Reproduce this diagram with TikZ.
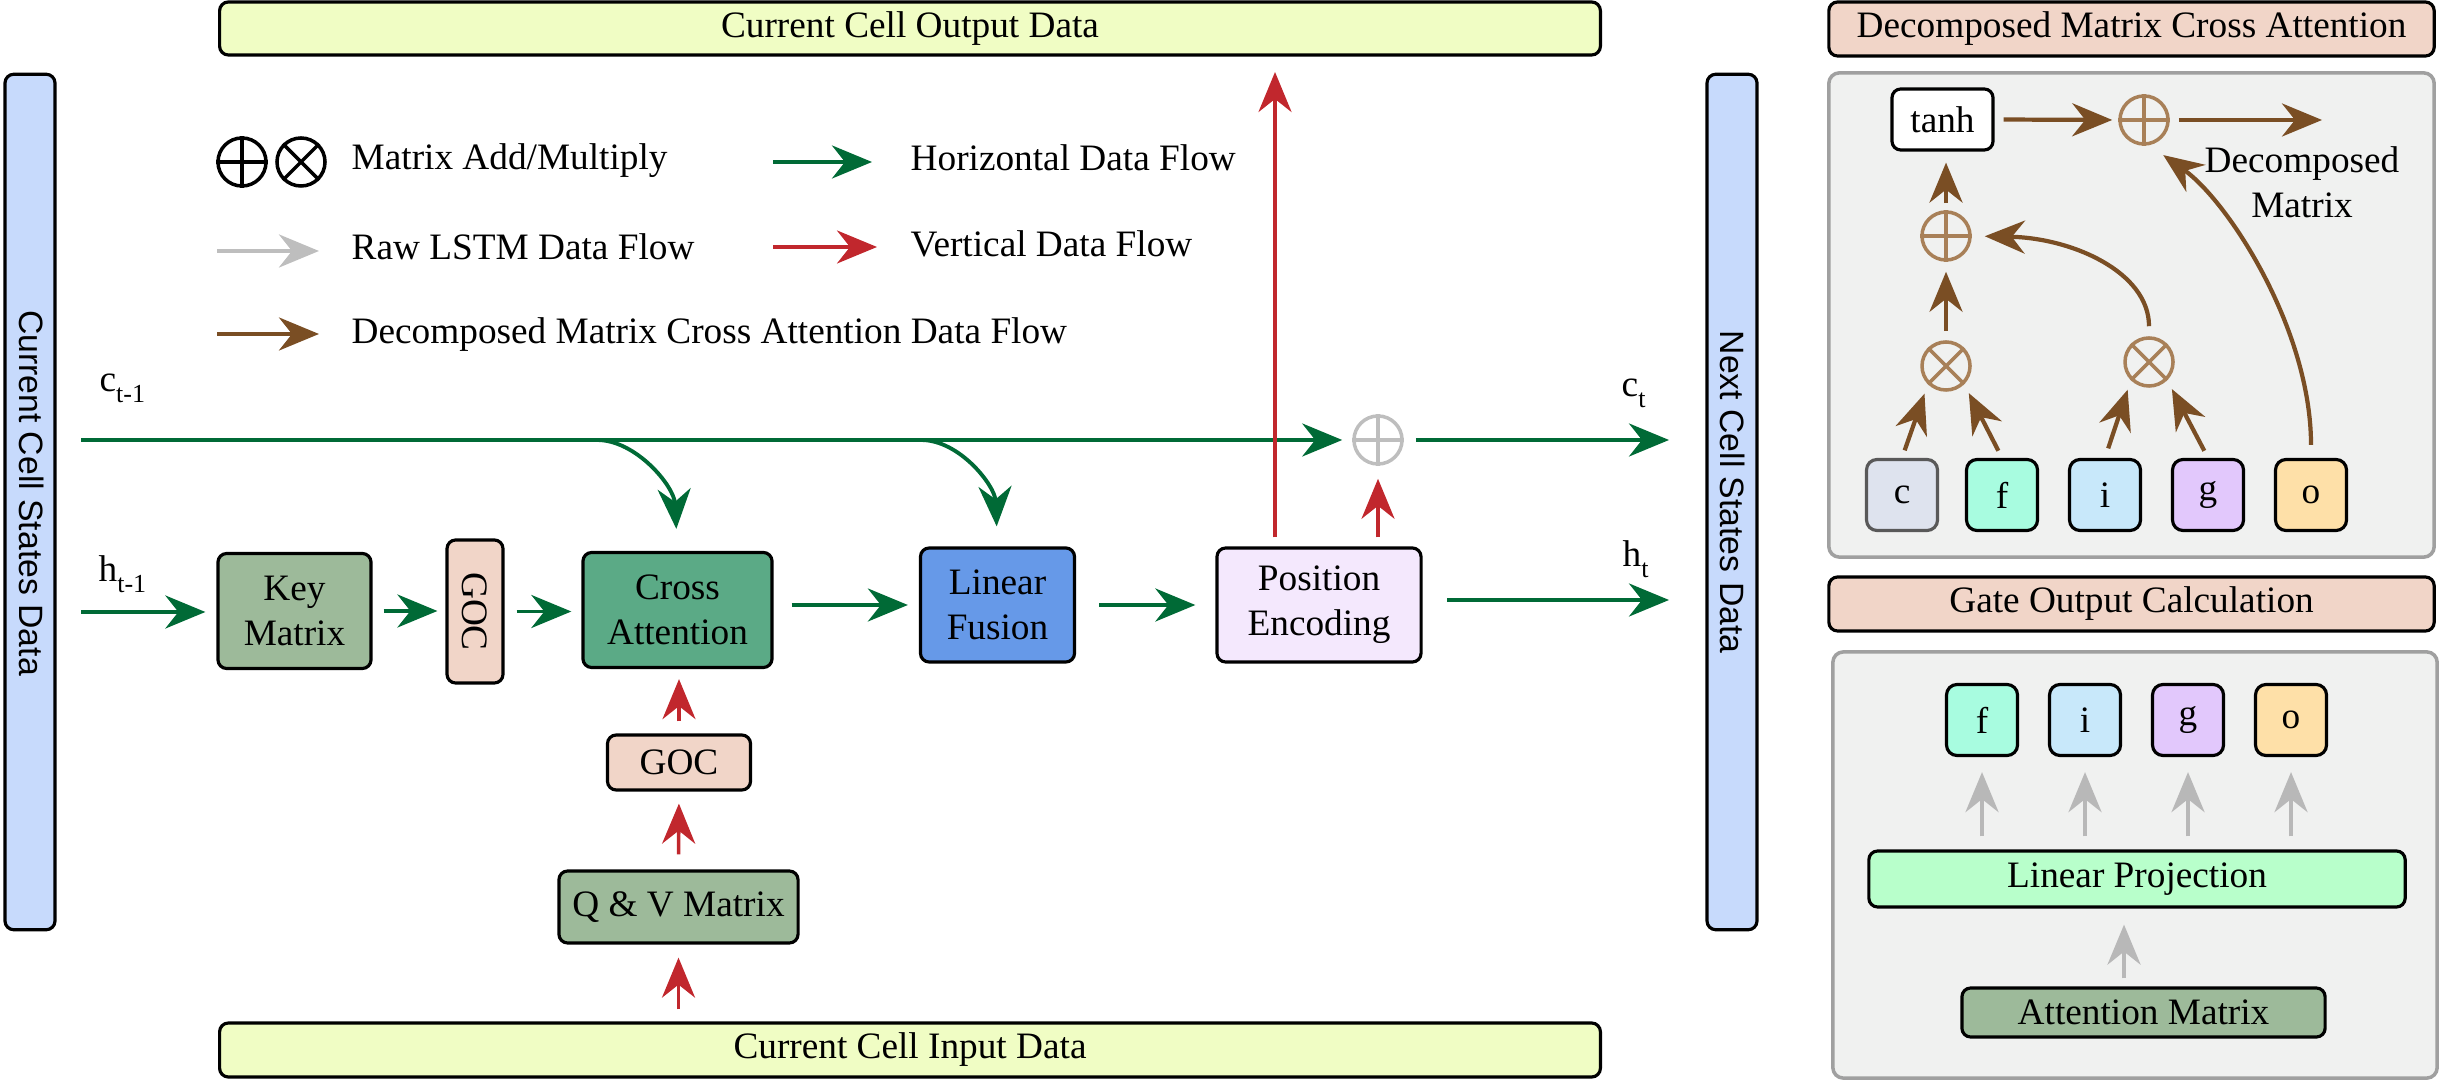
\documentclass[tikz,border=0pt]{standalone}
\usepackage{fontspec}
\setmainfont{Liberation Serif}
\setsansfont{Liberation Sans}
\usetikzlibrary{arrows.meta}
\definecolor{cyellow}{RGB}{240,253,196}
\definecolor{cblue}{RGB}{199,218,252}
\definecolor{csage}{RGB}{157,186,154}
\definecolor{ccross}{RGB}{91,170,134}
\definecolor{clin}{RGB}{102,153,232}
\definecolor{cpos}{RGB}{244,232,253}
\definecolor{cpeach}{RGB}{241,213,200}
\definecolor{cgreen}{RGB}{0,106,54}
\definecolor{cred}{RGB}{193,39,45}
\definecolor{cbrown}{RGB}{122,78,36}
\definecolor{cbrownc}{RGB}{168,128,88}
\definecolor{cgraya}{RGB}{184,184,184}
\definecolor{cgrayc}{RGB}{190,190,190}
\definecolor{cpanel}{RGB}{240,241,240}
\definecolor{cpanelb}{RGB}{160,160,160}
\definecolor{clp}{RGB}{184,255,203}
\definecolor{ccbox}{RGB}{222,227,238}
\definecolor{cfbox}{RGB}{168,252,224}
\definecolor{cibox}{RGB}{200,232,250}
\definecolor{cgbox}{RGB}{226,200,252}
\definecolor{cobox}{RGB}{254,224,168}
\newcommand{\dgf}{\fontsize{10.6}{12.8}\selectfont}
\newcommand{\dgsub}[1]{\raisebox{-3pt}{\fontsize{7.4}{8}\selectfont #1}}
\tikzset{
  box/.style={draw=black, line width=0.9pt, rounded corners=2.5pt, align=center, inner sep=0pt, font=\dgf},
  hdr/.style={box, fill=cpeach, minimum width=6.05cm, minimum height=0.54cm},
  sidebar/.style={draw=black, line width=0.9pt, rounded corners=2.5pt, fill=cblue, inner sep=0pt, minimum width=0.5cm, minimum height=8.55cm},
  sidetext/.style={rotate=-90, font=\sffamily\fontsize{9.6}{11}\selectfont, inner sep=0pt},
  lgtext/.style={anchor=base west, inner sep=0pt, font=\dgf},
  lbl/.style={anchor=base west, inner sep=0pt, font=\dgf},
  panel/.style={draw=cpanelb, fill=cpanel, line width=1pt, rounded corners=3pt},
  gate/.style={box, minimum width=0.71cm, minimum height=0.71cm, rounded corners=3pt},
  opcirc/.style={circle, minimum size=0.48cm, inner sep=0pt, line width=1pt},
  tipstyle/.style={-{Stealth[length=4mm,width=3.3mm,inset=1.3mm]}},
  garr/.style={draw=cgreen, line width=1.1pt, tipstyle},
  rarr/.style={draw=cred, line width=1pt, tipstyle},
  brarr/.style={draw=cbrown, line width=1.2pt, tipstyle},
  grarr/.style={draw=cgraya, line width=1.2pt, tipstyle},
}
\begin{document}
\begin{tikzpicture}[x=0.01cm, y=-0.01cm]
\useasboundingbox (0,0) rectangle (2440,1080);

% ---------- side bars ----------
\node[sidebar] (lbar) at (30,502) {};
\node[sidetext] (ltxt) at (32,493) {Current Cell States Data};
\node[sidebar] (rbar) at (1732,502) {};
\node[sidetext] (rtxt) at (1733,492) {Next Cell States Data};

% ---------- input / output ----------
\node[box, fill=cyellow, minimum width=13.8cm, minimum height=0.53cm] (outd) at (910,28.5) {Current Cell Output Data};
\node[box, fill=cyellow, minimum width=13.8cm, minimum height=0.54cm] (ind) at (910,1050) {Current Cell Input Data};

% ---------- legend ----------
\node[opcirc, draw=black] (lgadd) at (242,162) {};
\draw[black, line width=1pt] (lgadd.north) -- (lgadd.south) (lgadd.west) -- (lgadd.east);
\node[opcirc, draw=black] (lgmul) at (301,162) {};
\draw[black, line width=1pt] (lgmul.north east) -- (lgmul.south west) (lgmul.north west) -- (lgmul.south east);
\node[lgtext] (lt1) at (351,170) {Matrix Add/Multiply};
\coordinate (lgga) at (217,251); \coordinate (lggb) at (319,251);
\draw[draw=cgrayc, line width=1.2pt, tipstyle] (lgga) -- (lggb);
\node[lgtext] (lt2) at (351,260) {Raw LSTM Data Flow};
\coordinate (lgba) at (217,334); \coordinate (lgbb) at (319,334);
\draw[brarr] (lgba) -- (lgbb);
\node[lgtext] (lt3) at (351,344) {Decomposed Matrix Cross Attention Data Flow};
\coordinate (lgha) at (773,162); \coordinate (lghb) at (872,162);
\draw[garr] (lgha) -- (lghb);
\node[lgtext] (lt4) at (910,171) {Horizontal Data Flow};
\coordinate (lgva) at (773,247); \coordinate (lgvb) at (877,247);
\draw[rarr] (lgva) -- (lgvb);
\node[lgtext] (lt5) at (910,257) {Vertical Data Flow};

% ---------- labels ----------
\node[lbl] (lct1) at (99,392) {c\dgsub{t-1}};
\node[lbl] (lht1) at (98,582) {h\dgsub{t-1}};
\node[lbl] (lct) at (1621,397) {c\dgsub{t}};
\node[lbl] (lht) at (1622,567) {h\dgsub{t}};

% ---------- main blocks ----------
\node[box, fill=csage, minimum width=1.53cm, minimum height=1.15cm] (key) at (294.5,611) {Key\\Matrix};
\node[box, fill=cpeach, minimum width=0.56cm, minimum height=1.43cm] (goc) at (475,611.5) {};
\node[rotate=-90, inner sep=0pt, font=\dgf] (goct) at (475,611.5) {GOC};
\node[box, fill=ccross, minimum width=1.89cm, minimum height=1.15cm] (cross) at (677.5,610) {Cross\\Attention};
\node[box, fill=clin, minimum width=1.54cm, minimum height=1.14cm] (lin) at (997.5,605) {Linear\\Fusion};
\node[box, fill=cpos, minimum width=2.04cm, minimum height=1.14cm] (pos) at (1319,605) {Position\\Encoding};
\node[box, fill=cpeach, minimum width=1.43cm, minimum height=0.55cm] (gocs) at (679,762.5) {GOC};
\node[box, fill=csage, minimum width=2.39cm, minimum height=0.72cm] (qv) at (678.5,907) {Q \& V Matrix};

\node[opcirc, draw=cgrayc] (cadd) at (1378,440) {};
\draw[cgrayc, line width=1pt] (cadd.north) -- (cadd.south) (cadd.west) -- (cadd.east);

% ---------- horizontal flows ----------
\coordinate (cs) at (81,440);
\coordinate (ce) at (1669,440);
\draw[garr, shorten >=0.1cm] (cs) -- (cadd.west);
\draw[garr, shorten <=0.12cm] (cadd.east) -- (ce);
\coordinate (c1s) at (597,440);
\draw[garr, shorten >=0.22cm] (c1s) .. controls (636,440) and (674,486) .. (cross.north);
\coordinate (c2s) at (921,440);
\draw[garr, shorten >=0.2cm] (c2s) .. controls (960,440) and (995,486) .. (lin.north);

\coordinate (hs) at (81,612);
\draw[garr, shorten >=0.11cm] (hs) -- (hs -| key.west);
\draw[garr, shorten <=0.11cm, shorten >=0.08cm] (key.east) -- (key.east -| goc.west);
\draw[garr, shorten <=0.12cm, shorten >=0.1cm] (goc.east) -- (goc.east -| cross.west);
\draw[garr, shorten <=0.18cm, shorten >=0.11cm] (cross.east |- lin.west) -- (lin.west);
\draw[garr, shorten <=0.23cm, shorten >=0.2cm] (lin.east) -- (pos.west);
\coordinate (hts) at (1447,600);
\coordinate (hte) at (1669,600);
\draw[garr] (hts) -- (hte);

% ---------- vertical flows ----------
\draw[rarr, shorten <=0.12cm, shorten >=0.13cm] (ind.north -| qv.south) -- (qv.south);
\draw[rarr, shorten <=0.15cm, shorten >=0.12cm] (qv.north) -- (gocs.south);
\draw[rarr, shorten <=0.12cm, shorten >=0.1cm] (gocs.north) -- (gocs.north |- cross.south);
\coordinate (rvt) at (1275,72);
\draw[rarr, shorten <=0.09cm] (pos.north -| rvt) -- (rvt);
\draw[rarr, shorten <=0.09cm, shorten >=0.13cm] (pos.north -| cadd) -- (cadd.south);

% ---------- right panel: decomposed matrix cross attention ----------
\node[hdr] (h1) at (2131.5,29) {Decomposed Matrix Cross Attention};
\node[panel, minimum width=6.05cm, minimum height=4.84cm] (p1) at (2131.5,315) {};
\node[box, fill=white, minimum width=1.01cm, minimum height=0.61cm] (tanh) at (1942.5,119.5) {tanh};
\node[opcirc, draw=cbrownc] (addT) at (2144,120) {};
\draw[cbrownc, line width=1pt] (addT.north) -- (addT.south) (addT.west) -- (addT.east);
\node[opcirc, draw=cbrownc] (addM) at (1946,236) {};
\draw[cbrownc, line width=1pt] (addM.north) -- (addM.south) (addM.west) -- (addM.east);
\node[opcirc, draw=cbrownc] (mulL) at (1946,366) {};
\draw[cbrownc, line width=1pt] (mulL.north east) -- (mulL.south west) (mulL.north west) -- (mulL.south east);
\node[opcirc, draw=cbrownc] (mulR) at (2149,362) {};
\draw[cbrownc, line width=1pt] (mulR.north east) -- (mulR.south west) (mulR.north west) -- (mulR.south east);
\node[align=center, inner sep=0pt, font=\dgf] (dmtxt) at (2302,182) {Decomposed\\Matrix};

\node[gate, fill=ccbox, draw=black!65] (cb) at (1902,495) {c};
\node[gate, fill=cfbox] (fb) at (2002,495) {f};
\node[gate, fill=cibox] (ib) at (2105,495) {i};
\node[gate, fill=cgbox] (gb) at (2208,495) {g};
\node[gate, fill=cobox] (ob) at (2311,495) {o};

\coordinate (dmend) at (2322,120);
\draw[brarr, shorten <=0.09cm, shorten >=0.06cm] (tanh.east) -- (addT.west);
\draw[brarr, shorten <=0.09cm] (addT.east) -- (dmend);
\draw[brarr, shorten <=0.07cm, shorten >=0.11cm] (addM.north) -- (addM.north |- tanh.south);
\draw[brarr, shorten <=0.09cm, shorten >=0.1cm] (mulL.north) -- (addM.south);
\draw[brarr, shorten <=0.08cm, shorten >=0.1cm] (cb.north) -- (mulL.south west);
\draw[brarr, shorten <=0.08cm, shorten >=0.1cm] (fb.north) -- (mulL.south east);
\draw[brarr, shorten <=0.1cm, shorten >=0.1cm] (ib.north) -- (mulR.south west);
\draw[brarr, shorten <=0.08cm, shorten >=0.1cm] (gb.north) -- (mulR.south east);
\draw[brarr, shorten <=0.1cm, shorten >=0.13cm] (mulR.north) .. controls (2149,272) and (2072,238) .. (addM.east);
\draw[brarr, shorten <=0.13cm, shorten >=0.17cm] (ob.north) .. controls (2311,330) and (2229,202) .. (addT.-78);

% ---------- right panel: gate output calculation ----------
\node[hdr] (h2) at (2131.5,604) {Gate Output Calculation};
\node[panel, minimum width=6.04cm, minimum height=4.26cm] (p2) at (2135,865) {};
\node[gate, fill=cfbox] (f2) at (1982,720) {f};
\node[gate, fill=cibox] (i2) at (2085,720) {i};
\node[gate, fill=cgbox] (g2) at (2188,720) {g};
\node[gate, fill=cobox] (o2) at (2291,720) {o};
\node[box, fill=clp, minimum width=5.36cm, minimum height=0.56cm] (lp) at (2137,879) {Linear Projection};
\node[box, fill=csage, minimum width=3.63cm, minimum height=0.49cm] (att) at (2143.5,1012.5) {Attention Matrix};
\foreach \g in {f2,i2,g2,o2}{
  \draw[grarr, shorten <=0.13cm, shorten >=0.15cm] (lp.north -| \g.south) -- (\g.south);
}
\coordinate (ax) at (2124,950);
\draw[grarr, shorten <=0.08cm, shorten >=0.16cm] (att.north -| ax) -- (lp.south -| ax);
\end{tikzpicture}
\end{document}
